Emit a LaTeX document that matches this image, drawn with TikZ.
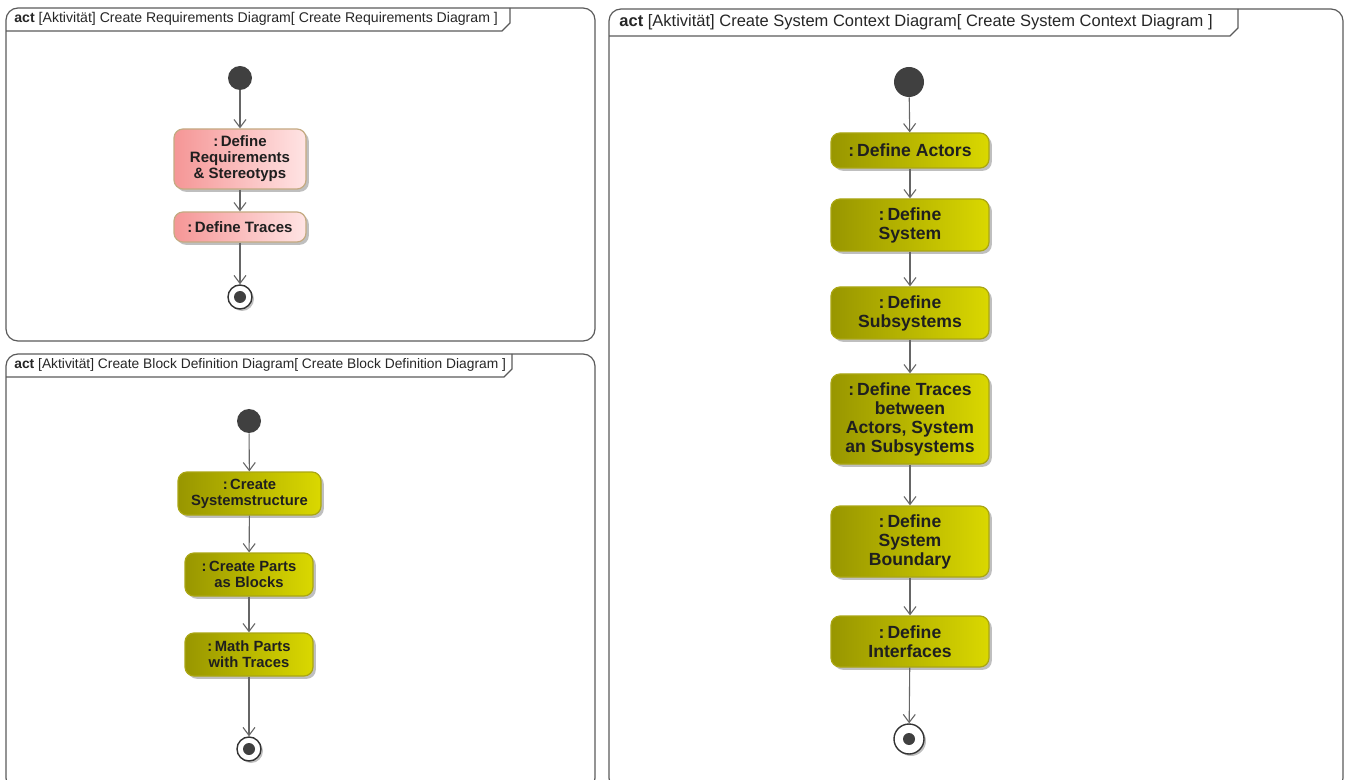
\documentclass[tikz,border=0pt]{standalone}
\usepackage{fontspec}
\setmainfont{Liberation Sans}
\usepackage{tikz}
\usetikzlibrary{arrows.meta,shadows}

\definecolor{pinkL}{RGB}{245,150,150}
\definecolor{pinkR}{RGB}{255,228,228}
\definecolor{pinkB}{RGB}{196,170,130}
\definecolor{oliveL}{RGB}{152,150,0}
\definecolor{oliveR}{RGB}{218,216,0}
\definecolor{oliveB}{RGB}{170,166,20}
\definecolor{framegray}{RGB}{90,90,90}
\definecolor{dotgray}{RGB}{64,64,64}

\tikzset{frame/.style={draw=framegray, line width=0.6pt, rounded corners=6pt},
         tab/.style={draw=framegray, line width=0.6pt},
         header/.style={anchor=west, inner sep=0pt, text=black!85},
         act/.style={draw, line width=0.6pt, rounded corners=4.5pt, align=center,
                     font=\bfseries, text=black!88, inner sep=1pt,
                     drop shadow={shadow xshift=1.4pt, shadow yshift=-1.4pt,
                                  fill=black, opacity=0.25}},
         reqact/.style={act, left color=pinkL, right color=pinkR, draw=pinkB,
                        font=\bfseries\fontsize{7.5}{8}\selectfont},
         bddact/.style={act, left color=oliveL, right color=oliveR, draw=oliveB,
                        font=\bfseries\fontsize{7.4}{8}\selectfont},
         ctxact/.style={act, left color=oliveL, right color=oliveR, draw=oliveB,
                        font=\bfseries\fontsize{8.8}{9.5}\selectfont, minimum width=79pt},
         startnode/.style={circle, fill=dotgray, inner sep=0pt, minimum size=12pt},
         endnode/.style={circle, draw=black!80, fill=white, line width=0.7pt,
                         inner sep=0pt, minimum size=12pt,
                         drop shadow={shadow xshift=1pt, shadow yshift=-1pt,
                                      fill=black, opacity=0.25},
                         path picture={\fill[dotgray] (path picture bounding box.center) circle (3pt);}},
         flow/.style={draw=black!60, line width=0.55pt,
                      -{Straight Barb[length=4pt,width=6pt]}}}

\begin{document}
\begin{tikzpicture}[x=0.5pt,y=-0.5pt]
    \useasboundingbox (0,0) rectangle (1349,780);

    % requirements diagram
    \draw[frame] (6,8) rectangle (595,341);
    \draw[tab] (6,31) -- (502,31) -- (510,23) -- (510,8);
    \node[header, font=\fontsize{7.05}{8}\selectfont] (h1) at (14,19)
        {\textbf{act} [Aktivität] Create Requirements Diagram[ Create Requirements Diagram ]};

    \node[startnode] (s1) at (240,78) {};
    \node[reqact, minimum width=66pt, minimum height=30pt] (req) at (240,159)
        {:\,Define\\Requirements\\\& Stereotyps};
    \node[reqact, minimum width=66pt, minimum height=15pt] (rtr) at (240,227) {:\,Define Traces};
    \node[endnode] (e1) at (240,297) {};

    \draw[flow] (s1) -- (req);
    \draw[flow] (req) -- (rtr);
    \draw[flow] (rtr) -- (e1);

    % block definition diagram
    \draw[frame] (6,354) rectangle (595,790);
    \draw[tab] (6,377) -- (504,377) -- (512,369) -- (512,354);
    \node[header, font=\fontsize{6.9}{8}\selectfont] (h2) at (14,365)
        {\textbf{act} [Aktivität] Create Block Definition Diagram[ Create Block Definition Diagram ]};

    \node[startnode] (s2) at (249,421) {};
    \node[bddact, minimum width=71.5pt, minimum height=21.5pt] (sys) at (249.5,493.5)
        {:\,Create\\Systemstructure};
    \node[bddact, minimum width=64pt, minimum height=21.5pt] (parts) at (249,574.5)
        {:\,Create Parts\\as Blocks};
    \node[bddact, minimum width=64pt, minimum height=21.5pt] (math) at (249,654.5)
        {:\,Math Parts\\with Traces};
    \node[endnode] (e2) at (249,749) {};

    \draw[flow] (s2) -- (sys);
    \draw[flow] (sys) -- (parts);
    \draw[flow] (parts) -- (math);
    \draw[flow] (math) -- (e2);

    % system context diagram
    \draw[frame] (609,9) rectangle (1343,790);
    \draw[tab] (609,36) -- (1230,36) -- (1238,28) -- (1238,9);
    \node[header, font=\fontsize{8.25}{9}\selectfont] (h3) at (619,22)
        {\textbf{act} [Aktivität] Create System Context Diagram[ Create System Context Diagram ]};

    \node[startnode, minimum size=15pt] (s3) at (909,82) {};
    \node[ctxact, minimum height=17.5pt] (actors) at (910,150.5) {:\,Define Actors};
    \node[ctxact, minimum height=26pt] (system) at (910,225) {:\,Define\\System};
    \node[ctxact, minimum height=26pt] (subsys) at (910,313) {:\,Define\\Subsystems};
    \node[ctxact, minimum height=45pt] (ctr) at (910,419)
        {:\,Define Traces\\between\\Actors, System\\an Subsystems};
    \node[ctxact, minimum height=35.5pt] (bound) at (910,541.5) {:\,Define\\System\\Boundary};
    \node[ctxact, minimum height=25.5pt] (iface) at (910,641.5) {:\,Define\\Interfaces};
    \node[endnode, minimum size=15pt] (e3) at (909,739) {};

    \draw[flow] (s3) -- (actors);
    \draw[flow] (actors) -- (system);
    \draw[flow] (system) -- (subsys);
    \draw[flow] (subsys) -- (ctr);
    \draw[flow] (ctr) -- (bound);
    \draw[flow] (bound) -- (iface);
    \draw[flow] (iface) -- (e3);
\end{tikzpicture}
\end{document}
